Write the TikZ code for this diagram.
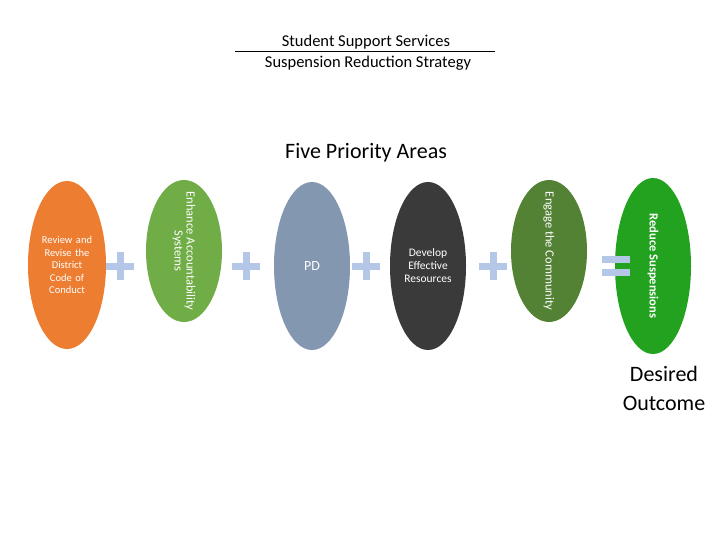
\documentclass[tikz,border=0pt]{standalone}
\usepackage{fontspec}
\setmainfont{Carlito}
\usetikzlibrary{shapes.geometric}
\definecolor{c1}{HTML}{ED7D31}
\definecolor{c2}{HTML}{70AD47}
\definecolor{c3}{HTML}{8497B0}
\definecolor{c4}{HTML}{3A3A3A}
\definecolor{c5}{HTML}{548235}
\definecolor{c6}{HTML}{22A21F}
\definecolor{op}{HTML}{B4C7E7}
\begin{document}
\begin{tikzpicture}[x=1pt,y=-1pt,
 el/.style={ellipse,draw=none,fill=#1,inner sep=0pt},
 lab/.style={align=center,font=\fontsize{10.5}{12.5}\selectfont,inner sep=0pt},
 plus/.style={op,line width=7pt}]
\useasboundingbox (0,0) rectangle (720,540);
\node[el=c1,minimum width=78pt,minimum height=168pt] (e1) at (67,265) {};
\node[el=c2,minimum width=76pt,minimum height=142pt] (e2) at (184,251) {};
\node[el=c3,minimum width=76pt,minimum height=168pt] (e3) at (312,266) {};
\node[el=c4,minimum width=76pt,minimum height=168pt] (e4) at (428,266) {};
\node[el=c5,minimum width=76pt,minimum height=142pt] (e5) at (549,251) {};
\node[el=c6,minimum width=76pt,minimum height=176pt] (e6) at (653,266) {};
\node[lab,white,text width=60pt] (t1) at (e1) {Review and\\Revise the\\District\\Code of\\Conduct};
\node[lab,white,rotate=-90,font=\fontsize{12.5}{12}\selectfont] (t2) at (e2) {Enhance Accountability\\Systems};
\node[lab,white,font=\fontsize{14}{15}\selectfont] (t3) at (e3) {PD};
\node[lab,white,font=\fontsize{11.5}{13}\selectfont] (t4) at (e4) {Develop\\Effective\\Resources};
\node[lab,white,rotate=-90,font=\fontsize{12.5}{12}\selectfont] (t5) at (e5) {Engage the Community};
\node[lab,white,rotate=-90,font=\bfseries\fontsize{12.5}{12}\selectfont] (t6) at (e6) {Reduce Suspensions};
\foreach \x/\n in {120/p1,246/p2,366/p3,493/p4}{
 \coordinate (\n) at (\x,266);
 \draw[plus] ([xshift=-14pt]\n) -- ([xshift=14pt]\n);
 \draw[plus] ([yshift=-14pt]\n) -- ([yshift=14pt]\n);
}
\coordinate (eq) at (616,266);
\draw[plus] ([xshift=-14pt,yshift=-6pt]eq) -- ([xshift=14pt,yshift=-6pt]eq);
\draw[plus] ([xshift=-14pt,yshift=7pt]eq) -- ([xshift=14pt,yshift=7pt]eq);
\node[font=\fontsize{16.5}{18}\selectfont] (h1) at (366,42) {Student Support Services};
\node[font=\fontsize{16.5}{18}\selectfont] (h2) at (368,63) {Suspension Reduction Strategy};
\draw[line width=0.8pt] (235,51) -- (495,51);
\node[font=\fontsize{22}{24}\selectfont] (fp) at (366,153) {Five Priority Areas};
\node[align=center,font=\fontsize{22}{29}\selectfont] (d) at (664,388) {Desired\\Outcome};
\end{tikzpicture}
\end{document}
